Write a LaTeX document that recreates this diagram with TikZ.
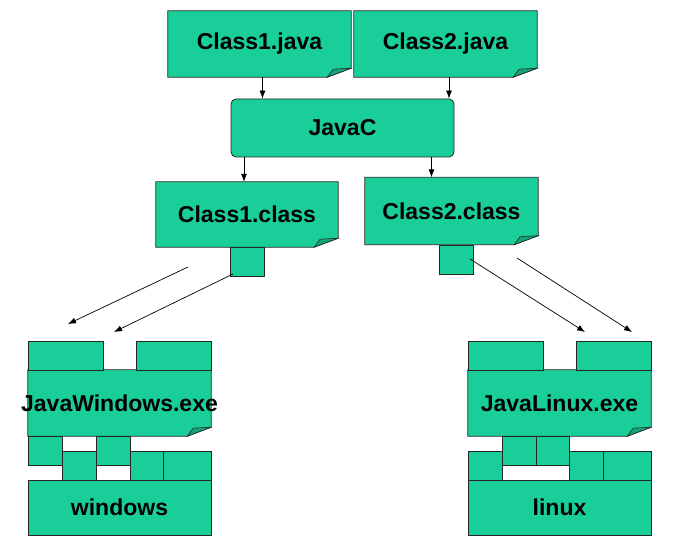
\documentclass[tikz,border=0pt]{standalone}
\usepackage{fontspec}
\setmainfont{Liberation Sans}
\usetikzlibrary{arrows.meta}
\definecolor{jade}{RGB}{26,206,153}
\definecolor{jadedark}{RGB}{18,165,122}
\pgfdeclarelayer{background}
\pgfsetlayers{background,main}
\tikzstyle{doc} = [rectangle, minimum width=183pt, minimum height=66pt, inner sep=0pt,
  font=\bfseries\fontsize{23}{27}\selectfont]
\tikzstyle{plain} = [doc, draw=black!85, fill=jade, line width=0.8pt]
\tikzstyle{block} = [draw=black!85, fill=jade, line width=0.8pt]
\tikzstyle{line} = [draw, -{Latex[length=8pt,width=6pt]}, line width=0.7pt]
% page with a folded corner behind a doc node
\newcommand{\dogear}[1]{%
  \begin{pgfonlayer}{background}
    \filldraw[block] (#1.north west) -- (#1.north east) -- ([yshift=9pt]#1.south east)
      -- ([xshift=-24pt]#1.south east) -- (#1.south west) -- cycle;
  \end{pgfonlayer}
  \filldraw[block, fill=jadedark, line width=0.6pt] ([xshift=-24pt]#1.south east)
    -- ([xshift=-18pt,yshift=8pt]#1.south east) -- ([yshift=9pt]#1.south east) -- cycle;
}

\begin{document}
\begin{tikzpicture}[x=1pt, y=-1pt]
    \useasboundingbox (0,0) rectangle (673,540);

    \node[doc] (c1java) at (259.5,44) {Class1.java};
    \node[doc] (c2java) at (445.5,44) {Class2.java};
    \node[plain, minimum width=223pt, minimum height=58pt, rounded corners=5pt] (javac) at (342.5,128) {JavaC};
    \node[doc, minimum width=182pt, minimum height=65pt] (c1class) at (247,214.5) {Class1.class};
    \node[doc, minimum width=173pt, minimum height=67pt] (c2class) at (451.5,211) {Class2.class};
    \dogear{c1java}
    \dogear{c2java}
    \dogear{c1class}
    \dogear{c2class}

    \node[block, minimum width=34pt, minimum height=29pt, anchor=north] (c1bin) at (c1class.south) {};
    \node[block, minimum width=34pt, minimum height=29pt, anchor=north] (c2bin) at ([xshift=4.5pt]c2class.south) {};

    % windows side
    \filldraw[block] (28,341) rectangle (103,370);
    \filldraw[block] (136,341) rectangle (211,370);
    \filldraw[block] (28,436) rectangle (62,465);
    \filldraw[block] (96,436) rectangle (130,465);
    \filldraw[block] (62,451) rectangle (96,480);
    \filldraw[block] (130,451) rectangle (163,480);
    \filldraw[block] (163,451) rectangle (211,480);
    \node[doc] (winexe) at (119.5,403) {\makebox[0pt]{JavaWindows.exe}};
    \dogear{winexe}
    \node[plain, minimum height=55pt] (winos) at (119.5,507.5) {windows};

    % linux side
    \filldraw[block] (468,341) rectangle (543,370);
    \filldraw[block] (576,341) rectangle (651,370);
    \filldraw[block] (502,436) rectangle (536,465);
    \filldraw[block] (536,436) rectangle (569,465);
    \filldraw[block] (468,451) rectangle (502,480);
    \filldraw[block] (569,451) rectangle (603,480);
    \filldraw[block] (603,451) rectangle (651,480);
    \node[doc] (linexe) at (559.5,403) {JavaLinux.exe};
    \dogear{linexe}
    \node[plain, minimum height=55pt] (linos) at (559.5,507.5) {linux};

    \coordinate (w1s) at (188,267);
    \coordinate (w1e) at (68,324);
    \coordinate (w2s) at (233,274);
    \coordinate (w2e) at (114,332);
    \coordinate (l1s) at (470,259);
    \coordinate (l1e) at (585,332);
    \coordinate (l2s) at (517,258);
    \coordinate (l2e) at (632,332);

    \path[line] ([xshift=3pt]c1java.south) -- ([xshift=3pt]c1java.south |- javac.north);
    \path[line] ([xshift=3.5pt]c2java.south) -- ([xshift=3.5pt]c2java.south |- javac.north);
    \path[line] ([xshift=-3pt]c1class.north |- javac.south) -- ([xshift=-3pt]c1class.north);
    \path[line] ([xshift=-20pt]c2class.north |- javac.south) -- ([xshift=-20pt]c2class.north);
    \path[line] (w1s) -- (w1e);
    \path[line] (w2s) -- (w2e);
    \path[line] (l1s) -- (l1e);
    \path[line] (l2s) -- (l2e);
\end{tikzpicture}
\end{document}
